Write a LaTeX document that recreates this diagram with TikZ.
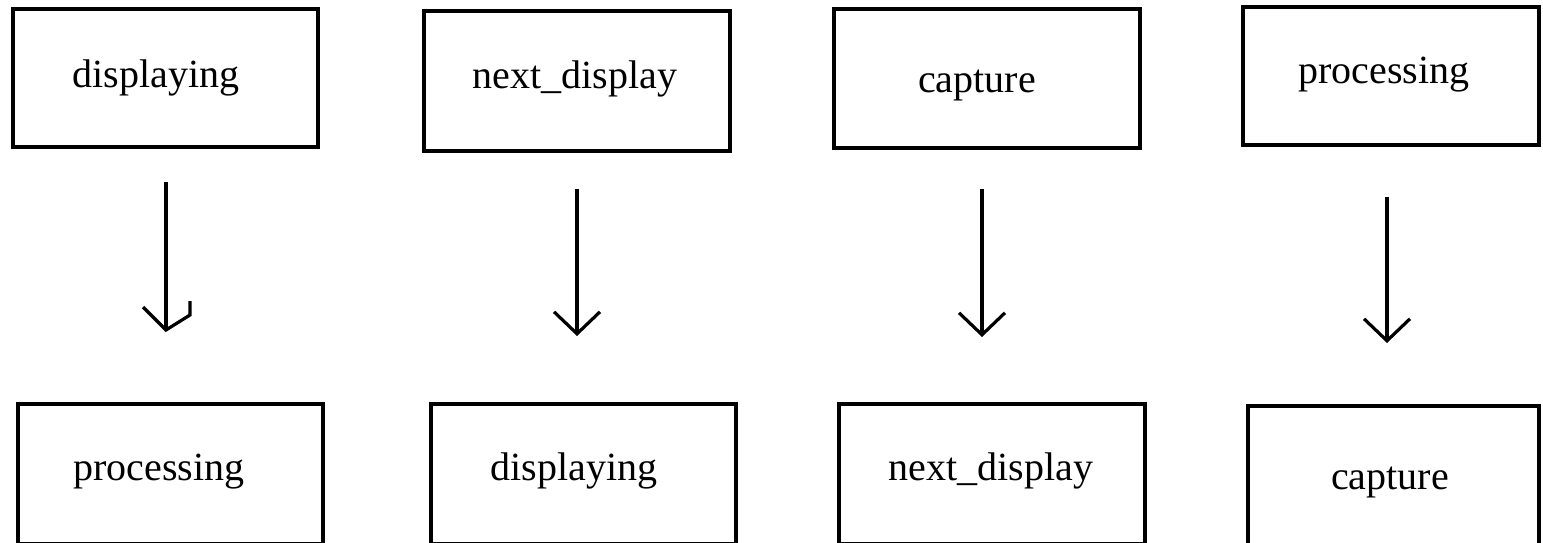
\documentclass[tikz,border=0pt]{standalone}
\usepackage{fontspec}
\setmainfont{Liberation Serif}
\usetikzlibrary{arrows.meta}
\begin{document}
\begin{tikzpicture}[x=1pt,y=-1pt,
  box/.style={draw=black,line width=4pt,inner sep=0pt,minimum width=#1},
  box/.default=305pt,
  lbl/.style={inner sep=0pt,anchor=base,font=\fontsize{40}{48}\selectfont},
  conn/.style={line width=3.2pt,-{Straight Barb[length=22pt,width=46pt]}},
  shaft/.style={line width=3.2pt},
  head/.style={line width=3.2pt,line join=miter}]
\useasboundingbox (0,0) rectangle (1543,542);
% top row
\node[box=305pt,minimum height=138pt] (b1) at (165.5,78) {};
\node[box=306pt,minimum height=140pt] (b2) at (577,81) {};
\node[box=306pt,minimum height=139pt] (b3) at (987,78.5) {};
\node[box=296pt,minimum height=138pt] (b4) at (1391,76) {};
% bottom row
\node[box=305pt,minimum height=140pt] (b5) at (170.5,474) {};
\node[box=305pt,minimum height=140pt] (b6) at (583.5,474) {};
\node[box=306pt,minimum height=140pt] (b7) at (992,474) {};
\node[box=291pt,minimum height=140pt] (b8) at (1393.5,476) {};
% labels
\node[lbl] (t1) at (156,87) {displaying};
\node[lbl] (t2) at (575,88) {next\_display};
\node[lbl] (t3) at (977,92) {capture};
\node[lbl] (t4) at (1384,83) {processing};
\node[lbl] (t5) at (159,480) {processing};
\node[lbl] (t6) at (574,480) {displaying};
\node[lbl] (t7) at (991,480) {next\_display};
\node[lbl] (t8) at (1390,489) {capture};
% arrows
\coordinate (a1s) at (166,182); \coordinate (a1e) at (166,330);
\coordinate (a1l) at (143,307); \coordinate (a1r) at (190,315); \coordinate (a1k) at (190,301);
\coordinate (a2s) at (577,189); \coordinate (a2e) at (577,336);
\coordinate (a3s) at (982,189); \coordinate (a3e) at (982,337);
\coordinate (a4s) at (1387,197); \coordinate (a4e) at (1387,343);
\draw[shaft] (a1s) -- (a1e);
\draw[head] (a1l) -- (a1e) -- (a1r) -- (a1k);
\draw[conn] (a2s) -- (a2e);
\draw[conn] (a3s) -- (a3e);
\draw[conn] (a4s) -- (a4e);
\end{tikzpicture}
\end{document}
